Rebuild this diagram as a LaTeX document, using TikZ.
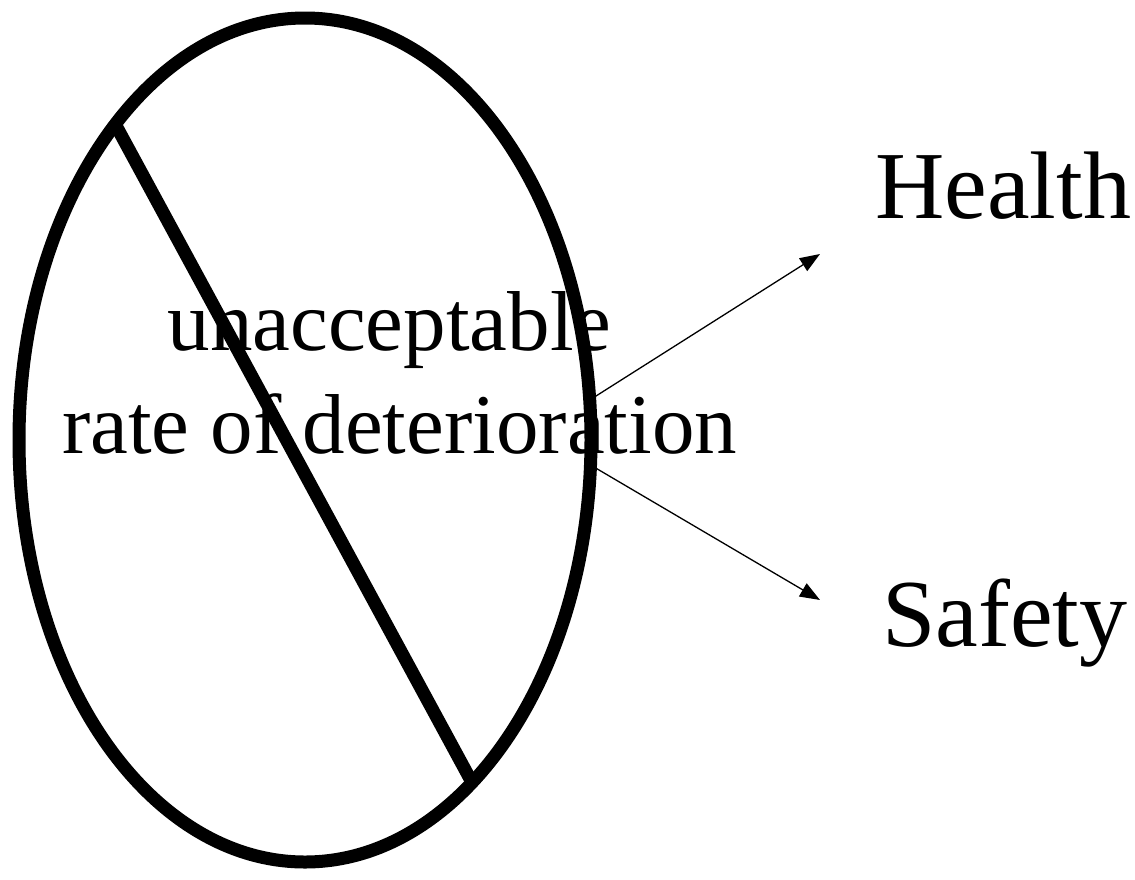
\documentclass[tikz,border=0pt]{standalone}
\usepackage{fontspec}
\setmainfont{Liberation Serif}
\usetikzlibrary{shapes.geometric,arrows.meta}
\tikzset{
  midtext/.style={font=\fontsize{85}{100}\selectfont, inner sep=0pt},
  sidetext/.style={font=\fontsize{96}{110}\selectfont, inner sep=0pt},
  thick line/.style={line width=13pt},
  link/.style={line width=1.3pt, -{Triangle[length=20pt,width=15pt]}}
}
\begin{document}
\begin{tikzpicture}[x=1pt,y=-1pt]
\useasboundingbox (0,0) rectangle (1135,879);
\node[ellipse, draw, thick line, outer sep=0pt, inner sep=0pt,
      minimum width=572pt, minimum height=844pt] (ell) at (305,440) {};
\draw[thick line] (ell.121.5) -- (ell.-64.4);
\node[midtext, anchor=base] (t1) at (389.5,350) {unacceptable};
\node[midtext, anchor=base] (t2) at (399.5,453) {rate of deterioration};
\node[sidetext, anchor=base west] (health) at (875,218) {Health};
\node[sidetext, anchor=base west] (safety) at (882,646) {Safety};
\coordinate (hA) at (820,254);
\coordinate (sA) at (820,600);
\draw[link] (ell.8.3) -- (hA);
\draw[link] (ell.-5.4) -- (sA);
\end{tikzpicture}
\end{document}
